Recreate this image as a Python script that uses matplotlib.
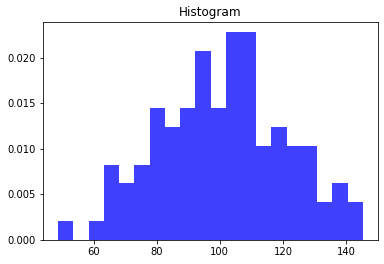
import numpy as np
import matplotlib
matplotlib.use('Agg')
import matplotlib.pyplot as plt

# Histogram of 100 samples, 20 equal bins
bin_lo = 48.8
bin_hi = 145.3
counts = [1, 0, 1, 4, 3, 4, 7, 6, 7, 10, 7, 11, 11, 5, 6, 5, 5, 2, 3, 2]


def main():
    edges = np.linspace(bin_lo, bin_hi, len(counts) + 1)
    centers = 0.5 * (edges[:-1] + edges[1:])

    fig = plt.figure(figsize=(384 / 72, 264 / 72), dpi=72)
    ax = fig.add_axes([43 / 384, 24 / 264, 335 / 384, 218 / 264])
    ax.hist(centers, bins=edges, weights=counts, density=True,
            facecolor='blue', alpha=0.75)
    ax.set_title('Histogram')
    fig.savefig('out.png', dpi=72)


if __name__ == '__main__':
    main()
